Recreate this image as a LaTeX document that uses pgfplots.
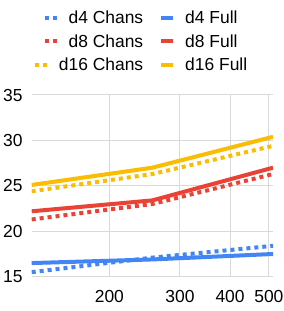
\documentclass[border=0pt]{standalone}
\usepackage{fontspec}
\setmainfont{Liberation Sans}
\usepackage{pgfplots}
\pgfplotsset{compat=1.18}
\definecolor{gblue}{HTML}{4285F4}
\definecolor{gred}{HTML}{EA4335}
\definecolor{gyellow}{HTML}{FBBC04}
\definecolor{ggrid}{HTML}{D9D9D9}
\pgfplotsset{
  imgshift/.style={legend image code/.code={\draw[##1] (9.7bp,0) -- (21.7bp,0);}},
  imgplain/.style={legend image code/.code={\draw[##1] (0,0) -- (12bp,0);}},
  imgfull/.style={legend image code/.code={\draw[##1] (0,0) -- (12bp,0); \path (22bp,0);}},
}
\begin{document}
\begin{tikzpicture}
\begin{axis}[
  at={(0,0)}, anchor=south west,
  scale only axis, width=241.3bp, height=181.7bp,
  xmode=log, xmin=128, xmax=512, ymin=15, ymax=35,
  xtick={200,300,400,500}, xticklabels={200,300,400,500},
  minor xtick={},
  ytick={15,20,25,30,35},
  grid=major, major grid style={ggrid, line width=1bp},
  axis line style={draw=none}, major tick length=0pt,
  tick label style={font=\fontsize{17.5}{20}\selectfont},
  /pgf/number format/assume math mode=true,
  yticklabel style={anchor=east, inner sep=0pt, xshift=-9bp},
  xticklabel style={anchor=north, inner sep=0pt, yshift=-13bp},
  legend columns=2,
  legend cell align=left,
  legend style={draw=none, fill=none, at={(-0.007,1.474)}, anchor=north west,
    font=\fontsize{17.5}{20}\selectfont,
    nodes={inner sep=0pt},
    /tikz/every even column/.append style={column sep=16bp},
    row sep=9.2bp},
]
\addplot[gblue, line width=4bp, dash pattern=on 4bp off 4bp, imgshift]
  coordinates {(128,15.5) (256,17.1) (512,18.4)};
\addlegendentry{\hspace*{9.7bp}d4 Chans}
\addplot[gblue, line width=4bp, imgfull]
  coordinates {(128,16.5) (256,16.9) (512,17.5)};
\addlegendentry{d4 Full}
\addplot[gred, line width=4bp, dash pattern=on 4bp off 4bp, imgshift]
  coordinates {(128,21.3) (256,23.0) (512,26.3)};
\addlegendentry{\hspace*{9.7bp}d8 Chans}
\addplot[gred, line width=4bp, imgfull]
  coordinates {(128,22.2) (256,23.4) (512,27.0)};
\addlegendentry{d8 Full}
\addplot[gyellow, line width=4bp, dash pattern=on 4bp off 4bp, imgplain]
  coordinates {(128,24.4) (256,26.3) (512,29.4)};
\addlegendentry{d16 Chans}
\addplot[gyellow, line width=4bp, imgfull]
  coordinates {(128,25.1) (256,27.0) (512,30.4)};
\addlegendentry{d16 Full}
\end{axis}
\pgfresetboundingbox
\path[use as bounding box] (-31.7bp,-34.3bp) rectangle (252.3bp,276.7bp);
\end{tikzpicture}
\end{document}
